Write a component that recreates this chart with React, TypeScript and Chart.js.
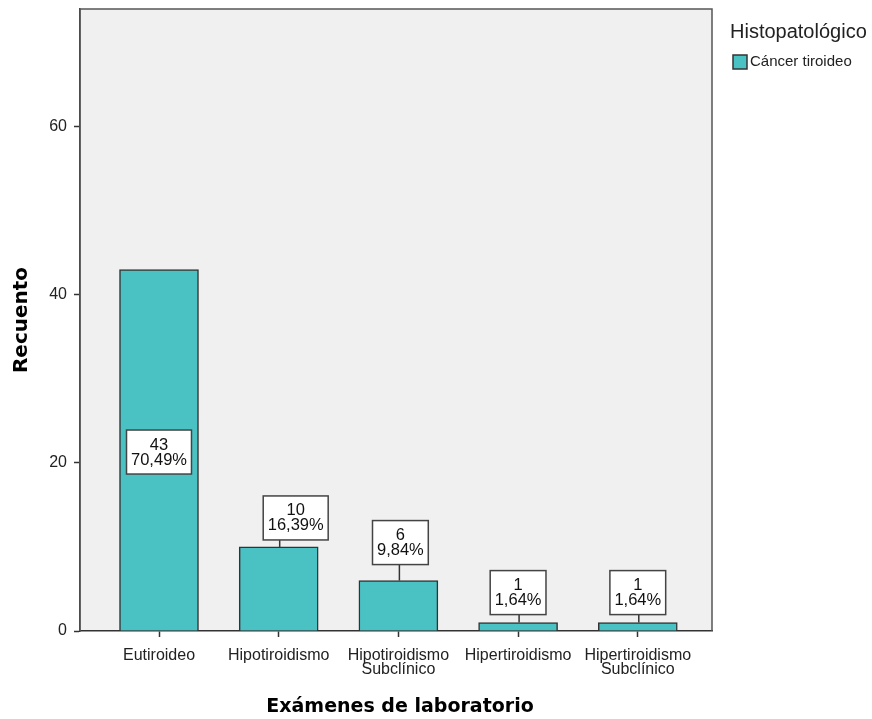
import React, { useEffect, useRef } from "react";
import { Chart, registerables } from "chart.js";

Chart.register(...registerables);

const categories: (string | string[])[] = [
  "Eutiroideo",
  "Hipotiroidismo",
  ["Hipotiroidismo", "Subclínico"],
  "Hipertiroidismo",
  ["Hipertiroidismo", "Subclínico"],
];
const counts = [43, 10, 6, 1, 1];
const percents = ["70,49%", "16,39%", "9,84%", "1,64%", "1,64%"];
const yTicks = [0, 20, 40, 60];
const seriesName = "Cáncer tiroideo";
const legendTitle = "Histopatológico";
const xTitle = "Exámenes de laboratorio";
const yTitle = "Recuento";

const BAR_COLOR = "#4AC1C3";
const EDGE = "#333333";
const SANS = "'Liberation Sans', Arial, sans-serif";
const BOX_FONT = "16.5px " + SANS;

const decorPlugin = {
  id: "decor",
  beforeDraw(chart: any) {
    const { ctx, chartArea: a } = chart;
    ctx.save();
    ctx.fillStyle = "#ffffff";
    ctx.fillRect(0, 0, chart.width, chart.height);
    ctx.fillStyle = "#F0F0F0";
    ctx.fillRect(a.left, a.top, a.right - a.left, a.bottom - a.top);
    ctx.restore();
  },
  afterDraw(chart: any) {
    const { ctx, chartArea: a } = chart;
    ctx.save();
    // frame
    ctx.strokeStyle = "#555555";
    ctx.lineWidth = 1.5;
    ctx.beginPath();
    ctx.moveTo(a.left, a.bottom);
    ctx.lineTo(a.left, a.top);
    ctx.lineTo(a.right, a.top);
    ctx.lineTo(a.right, a.bottom);
    ctx.stroke();

    // value boxes
    const meta = chart.getDatasetMeta(0);
    const leader = [0, 7, 16, 8, 8];
    const shift = [0, 17, 2, 0, 0];
    ctx.font = BOX_FONT;
    meta.data.forEach((bar: any, i: number) => {
      const lines = [String(counts[i]), percents[i]];
      const w = Math.max(...lines.map((t) => ctx.measureText(t).width)) + 9;
      const h = 44;
      const cx = bar.x + shift[i];
      let cy: number;
      const barH = bar.base - bar.y;
      if (barH > h * 3) {
        cy = (bar.y + bar.base) / 2 + 2;
      } else {
        const bottom = bar.y - leader[i];
        cy = bottom - h / 2;
        ctx.strokeStyle = "#333";
        ctx.lineWidth = 1.5;
        ctx.beginPath();
        ctx.moveTo(bar.x + 1, bar.y);
        ctx.lineTo(bar.x + 1, bottom);
        ctx.stroke();
      }
      ctx.fillStyle = "#ffffff";
      ctx.fillRect(cx - w / 2, cy - h / 2, w, h);
      ctx.strokeStyle = "#444";
      ctx.lineWidth = 1.5;
      ctx.strokeRect(cx - w / 2, cy - h / 2, w, h);
      ctx.fillStyle = "#111";
      ctx.textAlign = "center";
      ctx.textBaseline = "middle";
      ctx.fillText(lines[0], cx, cy - 7);
      ctx.fillText(lines[1], cx, cy + 8);
    });

    // axis titles
    ctx.fillStyle = "#000";
    ctx.textAlign = "center";
    ctx.textBaseline = "middle";
    ctx.font = "bold 19px 'DejaVu Sans', sans-serif";
    ctx.fillText(xTitle, (a.left + a.right) / 2 + 4, 707);
    ctx.save();
    ctx.font = "bold 20px 'DejaVu Sans', sans-serif";
    ctx.translate(22, 320);
    ctx.rotate(-Math.PI / 2);
    ctx.fillText(yTitle, 0, 0);
    ctx.restore();

    // legend
    ctx.textAlign = "left";
    ctx.textBaseline = "middle";
    ctx.fillStyle = "#222";
    ctx.font = "20px " + SANS;
    ctx.fillText(legendTitle, 730, 32);
    ctx.fillStyle = BAR_COLOR;
    ctx.fillRect(733, 55, 14, 14);
    ctx.strokeStyle = EDGE;
    ctx.lineWidth = 1.5;
    ctx.strokeRect(733, 55, 14, 14);
    ctx.fillStyle = "#222";
    ctx.font = "15px " + SANS;
    ctx.fillText(seriesName, 750, 62);
    ctx.restore();
  },
};

export default function App() {
  const ref = useRef<HTMLCanvasElement | null>(null);
  useEffect(() => {
    if (!ref.current) return;
    const chart = new Chart(ref.current, {
      type: "bar",
      data: {
        datasets: [
          {
            label: seriesName,
            data: counts.map((v, i) => ({ x: i, y: v })),
            backgroundColor: BAR_COLOR,
            borderColor: EDGE,
            borderWidth: 1.5,
            barThickness: 79,
          },
        ],
      },
      options: {
        animation: false,
        responsive: false,
        devicePixelRatio: 1,
        layout: { padding: { left: 0, top: 9, right: 160, bottom: 0 } },
        plugins: { legend: { display: false }, tooltip: { enabled: false } },
        scales: {
          x: {
            type: "linear",
            offset: false,
            min: -0.66,
            max: 4.62,
            afterFit: (s: any) => {
              s.height = 88;
              s.paddingLeft = 0;
              s.paddingRight = 0;
            },
            afterBuildTicks: (s: any) => {
              s.ticks = categories.map((_, i) => ({ value: i }));
            },
            grid: {
              display: true,
              offset: false,
              drawOnChartArea: false,
              tickLength: 6,
              tickColor: "#333",
              tickWidth: 1.5,
            },
            border: { display: true, color: "#333", width: 1.5 },
            ticks: {
              autoSkip: false,
              maxRotation: 0,
              padding: 11,
              color: "#222",
              font: { family: SANS, size: 16, lineHeight: 0.9 },
              callback: (v: any) => categories[Number(v)] as any,
            },
          },
          y: {
            min: 0,
            max: 74,
            afterFit: (s: any) => {
              s.width = 80;
              s.paddingTop = 0;
              s.paddingBottom = 0;
            },
            afterBuildTicks: (s: any) => {
              s.ticks = yTicks.map((v) => ({ value: v }));
            },
            grid: {
              display: true,
              drawOnChartArea: false,
              tickLength: 6,
              tickColor: "#333",
              tickWidth: 1.5,
            },
            border: { display: true, color: "#333", width: 1.5 },
            ticks: {
              padding: 7,
              color: "#222",
              font: { family: SANS, size: 16 },
            },
          },
        },
      },
      plugins: [decorPlugin],
    } as any);
    return () => chart.destroy();
  }, []);
  return (
    <div style={{ position: "fixed", left: 0, top: 0, width: 872, height: 719 }}>
      <canvas ref={ref} width={872} height={719} style={{ width: 872, height: 719 }} />
    </div>
  );
}
